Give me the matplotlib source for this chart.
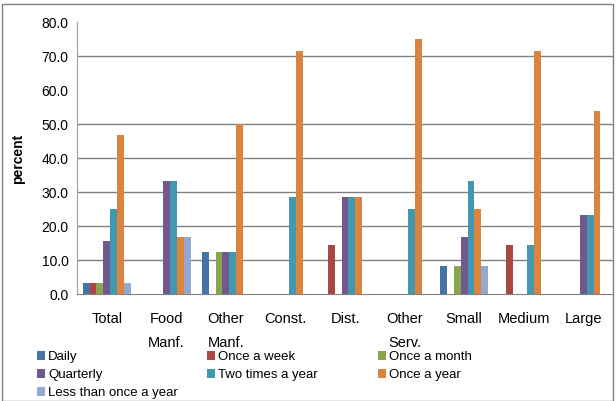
import matplotlib
matplotlib.use("Agg")
import matplotlib.pyplot as plt
import numpy as np
from matplotlib.patches import Rectangle

categories = ["Total", "Food\nManf.", "Other\nManf.", "Const.", "Dist.", "Other\nServ.", "Small", "Medium", "Large"]
series_names = ["Daily", "Once a week", "Once a month", "Quarterly", "Two times a year", "Once a year", "Less than once a year"]
daily        = [3.3, 0.0, 12.5, 0.0, 0.0, 0.0, 8.3, 0.0, 0.0]
once_week    = [3.3, 0.0, 0.0, 0.0, 14.3, 0.0, 0.0, 14.3, 0.0]
once_month   = [3.3, 0.0, 12.5, 0.0, 0.0, 0.0, 8.3, 0.0, 0.0]
quarterly    = [15.6, 33.3, 12.5, 0.0, 28.6, 0.0, 16.7, 0.0, 23.1]
two_times    = [25.0, 33.3, 12.5, 28.6, 28.6, 25.0, 33.3, 14.3, 23.1]
once_year    = [46.9, 16.7, 50.0, 71.4, 28.6, 75.0, 25.0, 71.4, 53.8]
less_than    = [3.3, 16.7, 0.0, 0.0, 0.0, 0.0, 8.3, 0.0, 0.0]
series_values = [daily, once_week, once_month, quarterly, two_times, once_year, less_than]
colors = ["#4572A7", "#AA4643", "#89A54E", "#71588F", "#4198AF", "#DB843D", "#93A9CF"]
yticks = [0, 10, 20, 30, 40, 50, 60, 70, 80]

plt.rcParams['font.family'] = ['Liberation Sans', 'DejaVu Sans']

fig = plt.figure(figsize=(6.16, 4.02), dpi=100)
ax = fig.add_axes([77/616, 1-295/402, (613-77)/616, (295-23)/402])

n = len(series_names)
w = 0.116
x = np.arange(len(categories))
for i, (name, vals, c) in enumerate(zip(series_names, series_values, colors)):
    ax.bar(x + (i - (n-1)/2)*w, vals, width=w, color=c, label=name, zorder=3)

ax.set_xlim(-0.5, len(categories)-0.5)
ax.set_ylim(0, 80)
ax.set_yticks(yticks)
ax.set_yticklabels([f"{v:.1f}" for v in yticks], fontsize=10)
ax.set_xticks(x)
ax.set_xticklabels(categories, fontsize=10.5, linespacing=1.95)
ax.tick_params(axis='x', length=0, pad=12)
ax.tick_params(axis='y', length=0, pad=6)
for v in [10, 20, 30, 40, 50, 70]:
    ax.axhline(v, color="#808080", lw=1.0, zorder=1)
for s in ["top", "right"]:
    ax.spines[s].set_visible(False)
ax.spines["left"].set_color("#A0A0A0")
ax.spines["bottom"].set_color("#808080")
ax.set_ylabel("percent", fontsize=10, fontweight="bold", labelpad=12)

# legend
col_x = [37/616, 207/616, 378/616]
row_y = [357/402, 375/402, 393/402]
for i, (name, c) in enumerate(zip(series_names, colors)):
    r, cc = divmod(i, 3)
    xx = col_x[cc]
    yy = 1 - row_y[r]
    fig.patches.append(Rectangle((xx, yy - 4/402), 8/616, 9/402, transform=fig.transFigure,
                                 facecolor=c, edgecolor="none"))
    fig.text(xx + 11/616, yy, name, fontsize=9.5, va="center", ha="left")

# outer border
fig.patches.append(Rectangle((2/616, 0), 611/616, 1 - 5/402, transform=fig.transFigure,
                             facecolor="none", edgecolor="#808080", lw=1.0))

fig.savefig("out.png", dpi=100)
